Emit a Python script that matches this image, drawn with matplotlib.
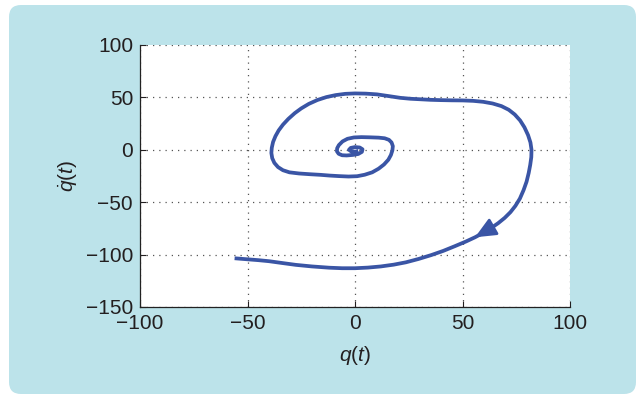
import numpy as np
import matplotlib
matplotlib.use("Agg")
import matplotlib.pyplot as plt
from matplotlib.patches import FancyBboxPatch

plt.rcParams['font.family'] = ['Liberation Sans', 'DejaVu Sans']
plt.rcParams['mathtext.fontset'] = 'custom'
plt.rcParams['mathtext.rm'] = 'Liberation Sans'
plt.rcParams['mathtext.it'] = 'Liberation Sans:italic'

# phase trajectory (centre outward, clockwise)
q = [1.5, 0, -1.8, -2.8, -2, 0, 2.2, 3.5, 3.2, 1.5, -1, -3.9, -6, -7.6, -8.4, -8.3, -7.5,
     -5.8, -3.5, -0.5, 3, 7, 11, 13.8, 15.8, 17, 17.6, 17.4, 16.7, 15.5, 13.5, 11, 8, 4.5,
     1, -3, -7.5, -11.7, -16, -21, -26, -30.5, -33.5, -35.8, -37.5, -38.5, -38.9, -38.7,
     -38.1, -37, -35.5, -33.5, -31, -28, -25, -21.5, -17.5, -13.3, -9, -4.5, 0, 5, 10.2,
     15.5, 21, 25.8, 30.5, 35, 39.9, 45, 50.1, 55, 59.6, 64, 68.1, 71.5, 74.3, 76.8, 78.8,
     80.5, 81.6, 82.1, 82, 81.5, 80.8, 79.8, 78.4, 76.7, 74.6, 72.3, 69.6, 66.6, 63.2,
     59.6, 55.8, 51.5, 46.4, 41, 35.4, 29.5, 23.6, 18, 12, 6, 0, -6, -12, -20, -27.5, -34,
     -40, -45, -50, -56]
qdot = [-1.2, -1.8, -1.5, 0, 1.8, 2.6, 2.2, 0.5, -2, -4, -4.9, -5.4, -5.2, -3.8, -1.5, 1.5,
        4.5, 8, 10.5, 11.8, 12.1, 11.9, 11.6, 11, 9.5, 7, 3.5, -0.5, -5, -9.5, -14, -18,
        -21.5, -23.8, -25.2, -25.5, -25.1, -24.6, -23.9, -23.3, -22.6, -21.5, -19.5, -16.5,
        -12.5, -8, -3, 2, 7.5, 13, 18.5, 24, 29.5, 35, 39.5, 43.8, 47.5, 50.3, 52.2, 53.4,
        53.8, 53.6, 52.9, 51.3, 49.6, 48.7, 48.2, 47.7, 47.4, 47.2, 47.1, 46.7, 45.8, 44.2,
        41.7, 38.2, 33.7, 28, 21.5, 14, 7, 0, -7, -14.4, -22, -30.4, -38.5, -46.5, -53.5,
        -59.5, -65, -70, -74.8, -79.3, -83.5, -87.6, -92, -96.5, -100.5, -104.2, -107.4,
        -109.6, -111.3, -112.4, -113, -113, -112.5, -111.3, -109.8, -108, -106.3, -105.3,
        -104.5, -103.5]

arrow_tip = (55.8, -83.5)
arrow_tail = (63.2, -74.8)

xticks = [-100, -50, 0, 50, 100]
yticks = [-150, -100, -50, 0, 50, 100]

line_col = '#3a55a5'
txt_col = '#231f20'

fig = plt.figure(figsize=(6.41, 3.95), dpi=100)
fig.patch.set_facecolor('white')
panel = FancyBboxPatch((9, 1), 627, 389, boxstyle="round,pad=0,rounding_size=12",
                       transform=None, facecolor='#bce3ea', edgecolor='none', zorder=-5)
fig.add_artist(panel)

ax = fig.add_axes([140 / 641, 1 - 307 / 395, 430 / 641, 262 / 395])
ax.set_facecolor('white')
ax.plot(q, qdot, color=line_col, lw=2.7, solid_joinstyle='round', solid_capstyle='butt')
ax.annotate('', xy=arrow_tip, xytext=arrow_tail,
            arrowprops=dict(arrowstyle='-|>,head_length=0.9,head_width=0.4',
                            color=line_col, lw=2.0, mutation_scale=14,
                            shrinkA=0, shrinkB=0))

ax.set_xlim(-100, 100)
ax.set_ylim(-150, 100)
ax.set_xticks(xticks)
ax.set_yticks(yticks)
ax.set_xticklabels([str(v).replace('-', '\u2212') for v in xticks])
ax.set_yticklabels([str(v).replace('-', '\u2212') for v in yticks])
ax.tick_params(direction='in', length=4, width=0.8, labelsize=15, colors=txt_col, pad=5)
ax.grid(True, color='#555555', linestyle=(0, (1, 4)), lw=0.9)
ax.set_axisbelow(True)
for s in ['top', 'right']:
    ax.spines[s].set_visible(False)
for s in ['left', 'bottom']:
    ax.spines[s].set_color('#222222')
    ax.spines[s].set_linewidth(0.9)

ax.set_xlabel(r'$q(t)$', fontsize=15, color=txt_col, labelpad=8)
ax.set_ylabel(r'$\dot{q}(t)$', fontsize=15, color=txt_col, labelpad=5)

fig.savefig('out.png', dpi=100)
